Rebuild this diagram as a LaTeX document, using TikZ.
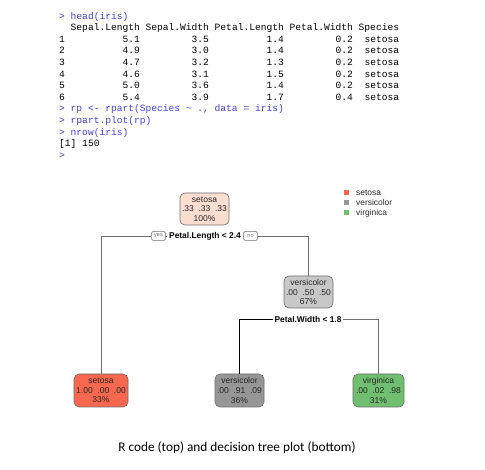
\documentclass[tikz,border=0pt]{standalone}
\usepackage{fontspec}
\newfontfamily\codefam{Liberation Mono}
\newfontfamily\treefam{Liberation Sans}
\newfontfamily\capfam{Carlito}
\definecolor{cblue}{RGB}{64,64,224}
\definecolor{peach}{RGB}{252,222,208}
\definecolor{tomatoc}{RGB}{247,104,78}
\definecolor{midgray}{RGB}{150,150,150}
\definecolor{ltgray}{RGB}{200,200,200}
\definecolor{greenc}{RGB}{112,190,112}
\definecolor{edgec}{RGB}{110,110,110}
\definecolor{txtc}{RGB}{40,40,40}
\frenchspacing
\begin{document}
\begin{tikzpicture}[x=1pt,y=-1pt,
  codeline/.style={anchor=base west,inner sep=0pt,font=\codefam\fontsize{9.6}{11.6}\selectfont},
  inp/.style={codeline,text=cblue},
  outp/.style={codeline,text=black},
  treenode/.style={draw=edgec,line width=0.6pt,rounded corners=5pt,align=center,inner sep=1pt,
    minimum width=49pt,minimum height=32pt,text=txtc,font=\treefam\fontsize{8.5}{9.7}\selectfont},
  splitlab/.style={inner sep=1.5pt,fill=white,font=\treefam\bfseries\fontsize{8.4}{9}\selectfont},
  yn/.style={draw=edgec,line width=0.5pt,rounded corners=1.5pt,inner sep=1pt,minimum width=14pt,minimum height=9pt,fill=white,text=edgec,font=\treefam\fontsize{5.5}{6}\selectfont},
  edge/.style={draw=edgec,line width=0.9pt},
  legsq/.style={minimum size=5pt,inner sep=0pt},
  legtxt/.style={anchor=west,inner sep=0pt,text=txtc,font=\treefam\fontsize{8.4}{9}\selectfont}]
\useasboundingbox[fill=white] (0,0) rectangle (485,470);
% R code
\node[inp]  (c1)  at (59,19.1) {>~head(iris)};
\node[outp] (c2)  at (59,30.7) {~~Sepal.Length~Sepal.Width~Petal.Length~Petal.Width~Species};
\node[outp] (c3)  at (59,42.3) {1~~~~~~~~~~5.1~~~~~~~~~3.5~~~~~~~~~~1.4~~~~~~~~~0.2~~setosa};
\node[outp] (c4)  at (59,53.9) {2~~~~~~~~~~4.9~~~~~~~~~3.0~~~~~~~~~~1.4~~~~~~~~~0.2~~setosa};
\node[outp] (c5)  at (59,65.5) {3~~~~~~~~~~4.7~~~~~~~~~3.2~~~~~~~~~~1.3~~~~~~~~~0.2~~setosa};
\node[outp] (c6)  at (59,77.1) {4~~~~~~~~~~4.6~~~~~~~~~3.1~~~~~~~~~~1.5~~~~~~~~~0.2~~setosa};
\node[outp] (c7)  at (59,88.7) {5~~~~~~~~~~5.0~~~~~~~~~3.6~~~~~~~~~~1.4~~~~~~~~~0.2~~setosa};
\node[outp] (c8)  at (59,100.3) {6~~~~~~~~~~5.4~~~~~~~~~3.9~~~~~~~~~~1.7~~~~~~~~~0.4~~setosa};
\node[inp]  (c9)  at (59,111.9) {>~rp~<-~rpart(Species~\textasciitilde~.,~data~=~iris)};
\node[inp]  (c10) at (59,123.5) {>~rpart.plot(rp)};
\node[inp]  (c11) at (59,135.1) {>~nrow(iris)};
\node[outp] (c12) at (59,146.7) {[1]~150};
\node[inp]  (c13) at (59,158.3) {>};
% tree nodes
\node[treenode,fill=peach] (root) at (204.5,209) {setosa\\.33~~.33~~.33\\100\%};
\node[treenode,fill=ltgray] (vers) at (308.5,292) {versicolor\\.00~~.50~~.50\\67\%};
\node[treenode,fill=tomatoc,minimum width=54pt,minimum height=33pt] (leafA) at (101,390.5) {setosa\\1.00~~.00~~.00\\33\%};
\node[treenode,fill=midgray,minimum height=33pt] (leafB) at (239.5,390.5) {versicolor\\.00~~.91~~.09\\36\%};
\node[treenode,fill=greenc,minimum width=51pt,minimum height=33pt] (leafC) at (378.5,390.5) {virginica\\.00~~.02~~.98\\31\%};
% split labels
\node[splitlab] (s1) at (205,236) {Petal.Length < 2.4};
\node[yn] (yes) at (158.5,236) {yes};
\node[yn] (no) at (250.5,236) {no};
\node[splitlab] (s2) at (308,319) {Petal.Width < 1.8};
% connectors
\draw[edge] (leafA.north) |- (yes.west);
\draw[edge] (yes.east) -- (s1.west);
\draw[edge] (s1.east) -- (no.west);
\draw[edge] (no.east) -| (vers.north);
\draw[edge,draw=black] (leafB.north) |- (s2.west);
\draw[edge] (s2.east) -| (leafC.north);
% legend
\node[legsq,fill=tomatoc] (q1) at (346.5,193) {};
\node[legsq,fill=midgray] (q2) at (346.5,203) {};
\node[legsq,fill=greenc] (q3) at (346.5,213) {};
\node[legtxt] (l1) at (356,193) {setosa};
\node[legtxt] (l2) at (356,203) {versicolor};
\node[legtxt] (l3) at (356,213) {virginica};
% caption
\node[anchor=base,inner sep=0pt,font=\capfam\fontsize{13.3}{15}\selectfont,text=black] (cap) at (237,451.5) {R code (top) and decision tree plot (bottom)};
\end{tikzpicture}
\end{document}
